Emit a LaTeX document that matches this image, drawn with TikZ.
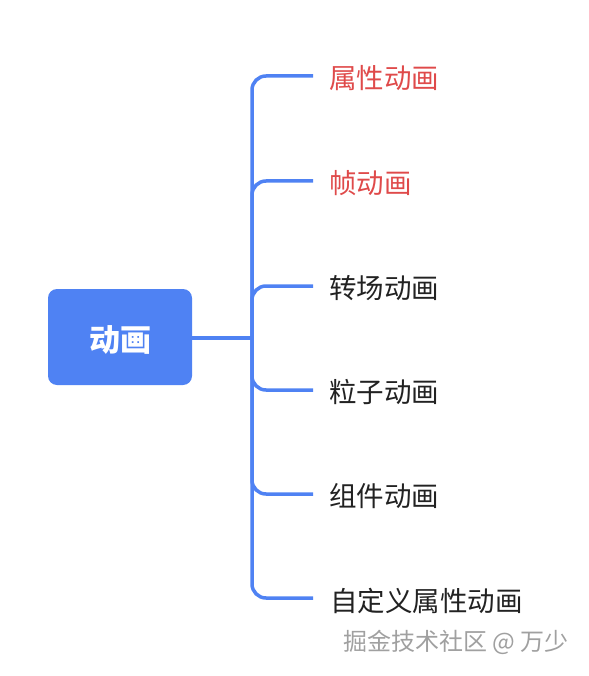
\documentclass[tikz,border=0pt]{standalone}
\usepackage{fontspec}
\newfontfamily\cjk{Noto Sans CJK SC}
\definecolor{mblue}{HTML}{4F82F3}
\definecolor{mred}{HTML}{DF4A4A}
\definecolor{mdark}{HTML}{222222}
\definecolor{mgray}{HTML}{A0A0A0}
\tikzset{
  rootbox/.style={fill=mblue, rounded corners=9pt, minimum width=144pt, minimum height=96pt, inner sep=0pt, text=white, font=\cjk\bfseries\fontsize{31}{31}\selectfont},
  leaf/.style={anchor=west, inner sep=0pt, font=\cjk\fontsize{27.5}{27.5}\selectfont, text=mdark},
  hot/.style={text=mred},
  link/.style={draw=mblue, line width=3.5pt, rounded corners=14pt},
}
\begin{document}
\begin{tikzpicture}[x=1pt,y=-1pt]
\useasboundingbox (0,0) rectangle (588,676);
\node[rootbox] (root) at (120,337) {\smash{\raisebox{-14.5pt}{动画}}};
\coordinate (j) at (252,338);
\coordinate (e1) at (313,76);
\coordinate (e2) at (313,181);
\coordinate (e3) at (313,286);
\coordinate (e4) at (313,390);
\coordinate (e5) at (313,494);
\coordinate (e6) at (313,598);
\node[leaf,hot] (l1) at (329,78) {属性动画};
\node[leaf,hot] (l2) at (329,183) {帧动画};
\node[leaf] (l3) at (329,288) {转场动画};
\node[leaf] (l4) at (329,392) {粒子动画};
\node[leaf] (l5) at (329,496) {组件动画};
\node[leaf] (l6) at (330,601) {自定义属性动画};
\draw[link] (root.east |- j) -- (j);
\foreach \e in {e1,e2,e3,e4,e5,e6} \draw[link] (j) |- (\e);
\node[anchor=west, inner sep=0pt, text=mgray, font=\cjk\fontsize{24}{24}\selectfont] (wm) at (343,642) {掘金技术社区 @ 万少};
\end{tikzpicture}
\end{document}
